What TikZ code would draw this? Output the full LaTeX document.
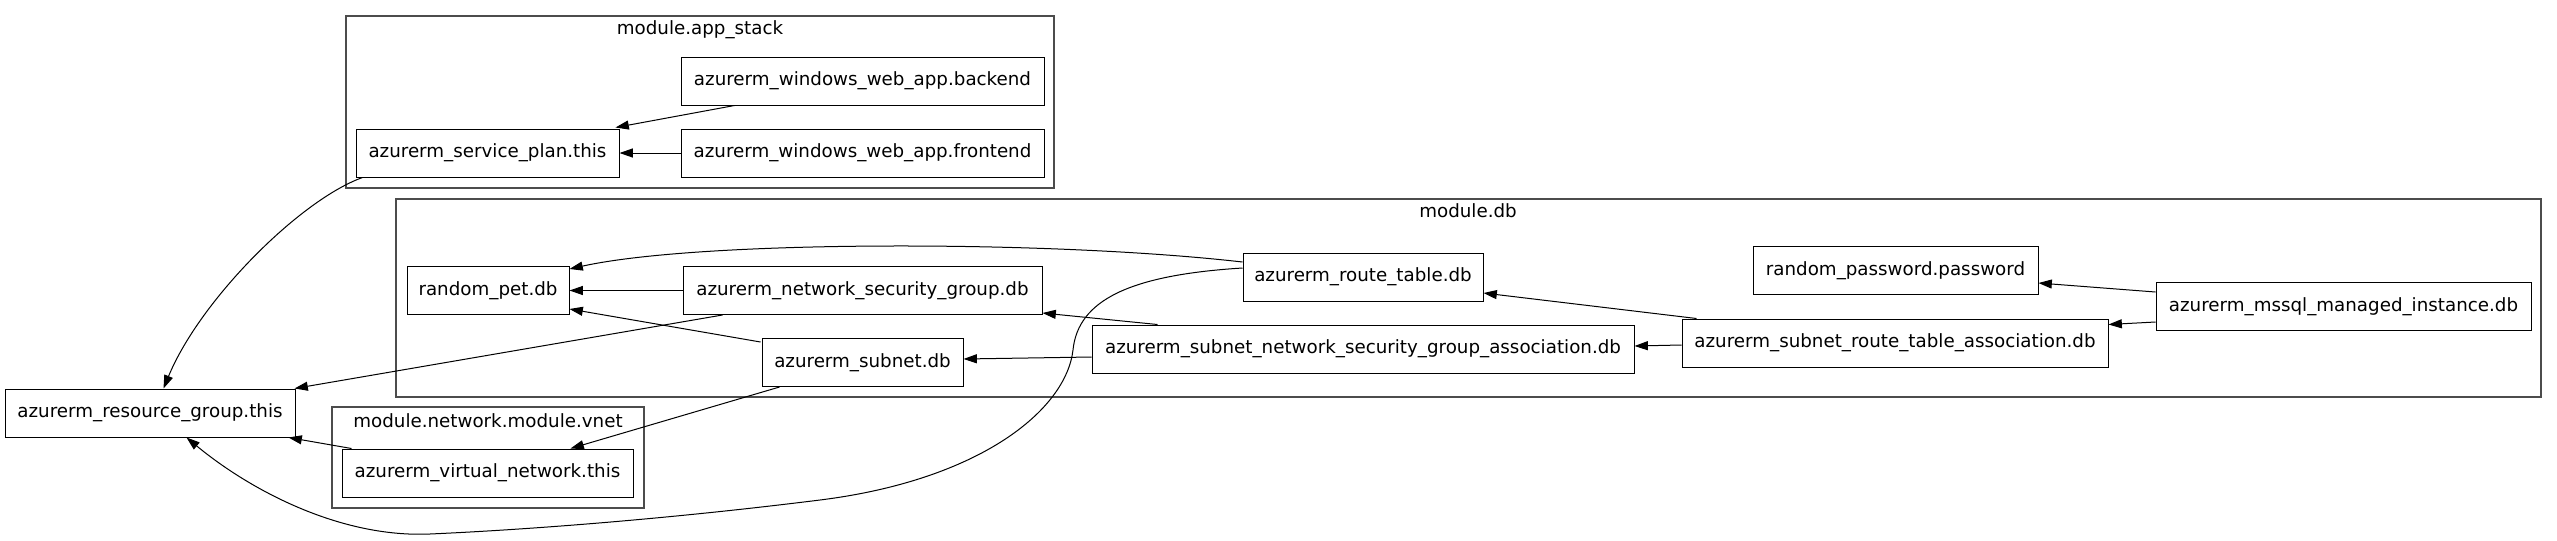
\documentclass[tikz,border=0pt]{standalone}
\usepackage{fontspec}
\setmainfont{DejaVu Sans}
\usetikzlibrary{arrows.meta,calc}
\begin{document}
\begin{tikzpicture}[x=0.75pt,y=-0.75pt,
  res/.style={draw=black, line width=0.75pt, rectangle, inner sep=0pt, minimum height=36pt,
    font=\fontsize{13.7}{16}\selectfont, text height=10pt, text depth=3pt},
  cluster/.style={draw=black!70, line width=1pt, rectangle, inner sep=0pt},
  clabel/.style={inner sep=0pt, font=\fontsize{13.7}{16}\selectfont, text height=10pt, text depth=3pt},
  edge/.style={line width=0.75pt, -{Triangle[length=10pt,width=6.75pt]}}]
\useasboundingbox (0,0) rectangle (2557,540);
% clusters
\node[cluster, minimum width=531pt, minimum height=129pt] (appstack) at (700,102) {};
\node[cluster, minimum width=1608.75pt, minimum height=148.5pt] (moddb) at (1468.5,298) {};
\node[cluster, minimum width=234pt, minimum height=75.75pt] (modvnet) at (488,457.5) {};
\node[clabel] (appstackl) at (700,30) {module.app\_stack};
\node[clabel] (moddbl) at (1468,213) {module.db};
\node[clabel] (modvnetl) at (488,423) {module.network.module.vnet};
% resources
\node[res, minimum width=197.25pt] (sp) at (487.5,153) {azurerm\_service\_plan.this};
\node[res, minimum width=272.25pt] (backend) at (862.5,81) {azurerm\_windows\_web\_app.backend};
\node[res, minimum width=272.25pt] (frontend) at (862.5,153) {azurerm\_windows\_web\_app.frontend};
\node[res, minimum width=121.5pt] (rp) at (488,290.5) {random\_pet.db};
\node[res, minimum width=269.25pt] (nsg) at (862.5,290.5) {azurerm\_network\_security\_group.db};
\node[res, minimum width=180pt] (rt) at (1363,277) {azurerm\_route\_table.db};
\node[res, minimum width=150.75pt] (subnet) at (862.5,362.5) {azurerm\_subnet.db};
\node[res, minimum width=406.5pt] (sga) at (1363,349) {azurerm\_subnet\_network\_security\_group\_association.db};
\node[res, minimum width=319.5pt] (srt) at (1895,343) {azurerm\_subnet\_route\_table\_association.db};
\node[res, minimum width=213.75pt] (rpw) at (1895.5,270.5) {random\_password.password};
\node[res, minimum width=281.25pt] (ms) at (2343.5,306.5) {azurerm\_mssql\_managed\_instance.db};
\node[res, minimum width=217.5pt] (rg) at (150,413) {azurerm\_resource\_group.this};
\node[res, minimum width=218.25pt] (vn) at (487.5,473) {azurerm\_virtual\_network.this};
% via points of the long curve
\coordinate (w1) at (1073,350);
\coordinate (w2) at (820,500);
\coordinate (w3) at (430,534);
% edges
\draw[edge] ($(backend.south west)+(54,0)$) -- ($(sp.north east)+(-4,-1)$);
\draw[edge] (frontend.west) -- (sp.east);
\draw[edge] ($(sp.south west)+(7,0)$) .. controls (300,200) and (200,300) .. ($(rg.north west)+(159,0)$);
\draw[edge] (nsg.west) -- (rp.east);
\draw[edge] ($(subnet.north west)+(-1,4)$) -- ($(rp.south east)+(0,-6)$);
\draw[edge] ($(rt.west)+(0,-15)$) .. controls (1050,240) and (700,240) .. ($(rp.north east)+(0,3)$);
\draw[edge] ($(nsg.south west)+(40,0)$) -- ($(rg.north east)+(-1,0)$);
\draw[edge] ($(subnet.south west)+(18,0)$) -- ($(vn.north east)+(-63,0)$);
\draw[edge] ($(vn.north west)+(10,0)$) -- ($(rg.south east)+(-7,0)$);
\draw[edge] ($(rt.west)+(0,-9)$) .. controls (1130,275) and (1078,300) .. (w1)
  .. controls (1066,410) and (980,480) .. (w2)
  .. controls (660,520) and (520,530) .. (w3)
  .. controls (340,538) and (250,490) .. ($(rg.south west)+(182,0)$);
\draw[edge] ($(sga.north west)+(66,0)$) -- ($(nsg.south east)+(0,-2)$);
\draw[edge] ($(sga.west)+(0,8)$) -- ($(subnet.east)+(0,-3.5)$);
\draw[edge] ($(srt.west)+(0,2)$) -- ($(sga.east)+(0,-3)$);
\draw[edge] ($(srt.north west)+(15,0)$) -- ($(rt.east)+(0,16)$);
\draw[edge] ($(ms.west)+(0,-14.5)$) -- ($(rpw.east)+(0,12.5)$);
\draw[edge] ($(ms.west)+(0,15.5)$) -- ($(srt.north east)+(0,6)$);
\end{tikzpicture}
\end{document}
